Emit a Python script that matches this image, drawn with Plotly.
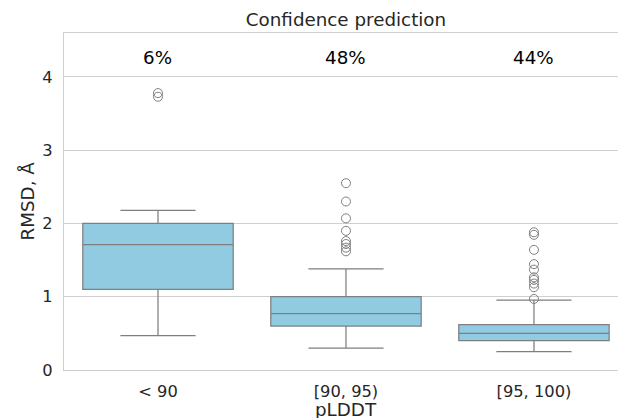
import plotly.graph_objects as go

categories = ["< 90", "[90, 95)", "[95, 100)"]
q1 = [1.10, 0.60, 0.40]
median = [1.71, 0.77, 0.50]
q3 = [2.00, 1.00, 0.62]
lower_whisker = [0.47, 0.30, 0.25]
upper_whisker = [2.18, 1.38, 0.955]
outliers = [
    [3.78, 3.73],
    [2.55, 2.30, 2.07, 1.90, 1.76, 1.72, 1.67, 1.62],
    [1.88, 1.845, 1.64, 1.445, 1.37, 1.265, 1.23, 1.18, 1.13, 0.97],
]
shares = ["6%", "48%", "44%"]
share_y = 4.27

FONT = "DejaVu Sans"
BOX_FILL = "#91cbe2"
LINE = "#7f7f7f"
GRID = "#cfcfcf"
TEXT = "#262626"
TICK_SIZE = 16.3
LABEL_SIZE = 18.3

fig = go.Figure()
for i, cat in enumerate(categories):
    fig.add_trace(go.Box(
        x=[cat], q1=[q1[i]], median=[median[i]], q3=[q3[i]],
        lowerfence=[lower_whisker[i]], upperfence=[upper_whisker[i]],
        boxpoints=False, width=0.8, whiskerwidth=0.5,
        fillcolor=BOX_FILL, line=dict(color=LINE, width=1.25),
        showlegend=False, hoverinfo="skip",
    ))
    fig.add_trace(go.Scatter(
        x=[cat] * len(outliers[i]), y=outliers[i], mode="markers",
        marker=dict(symbol="circle-open", size=9, color=LINE, line=dict(width=1)),
        showlegend=False,
    ))

for cat, s in zip(categories, shares):
    fig.add_annotation(x=cat, y=share_y, xref="x", yref="y", text=s,
                       showarrow=False, font=dict(family=FONT, size=LABEL_SIZE, color="black"))

# axis titles
fig.add_annotation(text="pLDDT", xref="paper", yref="paper", x=(346 - 64) / 554, y=0,
                   yshift=-39, xanchor="center", yanchor="middle", showarrow=False,
                   font=dict(family=FONT, size=LABEL_SIZE, color=TEXT))
fig.add_annotation(text="RMSD, Å", xref="paper", yref="paper", x=0, y=0.5, xshift=-37,
                   xanchor="center", yanchor="middle", textangle=-90, showarrow=False,
                   font=dict(family=FONT, size=LABEL_SIZE, color=TEXT))

fig.update_layout(
    width=618, height=418,
    margin=dict(l=64, r=0, t=33, b=48, autoexpand=False),
    paper_bgcolor="white", plot_bgcolor="white",
    font=dict(family=FONT, color=TEXT),
    title=dict(text="Confidence prediction", x=346 / 618, xref="container", xanchor="center",
               y=1 - 20 / 418, yref="container", yanchor="middle",
               font=dict(family=FONT, size=LABEL_SIZE, color=TEXT)),
    xaxis=dict(
        type="category", categoryorder="array", categoryarray=categories,
        range=[-0.5, 2.447], showgrid=False, zeroline=False, automargin=False,
        showline=True, linecolor=GRID, linewidth=1.25, mirror=True,
        ticks="", tickfont=dict(family=FONT, size=TICK_SIZE, color=TEXT),
        ticklabelstandoff=6,
    ),
    yaxis=dict(
        range=[0, 4.6], tickvals=[0, 1, 2, 3, 4], ticktext=["0", "1", "2", "3", "4"],
        showgrid=True, gridcolor=GRID, gridwidth=1, zeroline=False, automargin=False,
        showline=True, linecolor=GRID, linewidth=1.25, mirror=True,
        ticks="", tickfont=dict(family=FONT, size=TICK_SIZE, color=TEXT),
        ticklabelstandoff=7,
    ),
)

fig.write_html("out.html", config={"displayModeBar": False},
               post_script="document.body.style.margin='0';")
